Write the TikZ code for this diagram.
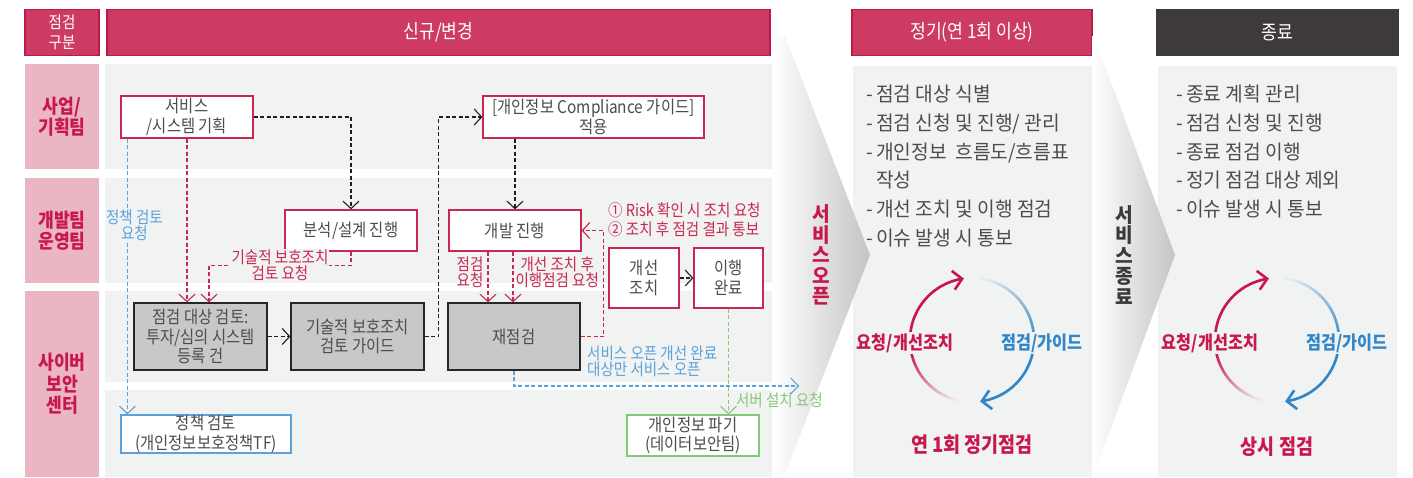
\documentclass[tikz,border=0pt]{standalone}
\usepackage{fontspec}
\setmainfont{Noto Sans CJK KR}[FakeStretch=0.88]
\newfontfamily\bulfont{Noto Sans CJK KR}[FakeStretch=0.96]
\usetikzlibrary{arrows.meta,calc}
\definecolor{hdrred}{HTML}{CD3B63}
\definecolor{hdrline}{HTML}{B71A4B}
\definecolor{lanepink}{HTML}{EBB6C4}
\definecolor{lanetxt}{HTML}{C8174D}
\definecolor{lanegray}{HTML}{F1F2F2}
\definecolor{boxred}{HTML}{C8284F}
\definecolor{txtgray}{HTML}{4D4D4D}
\definecolor{boxgray}{HTML}{C8C8C8}
\definecolor{lblue}{HTML}{5BA2DB}
\definecolor{lgreen}{HTML}{86C77A}
\definecolor{darkhdr}{HTML}{3E3A39}
\definecolor{cblue}{HTML}{2F86C8}
\definecolor{cred}{HTML}{C8174D}
\definecolor{chevgray}{HTML}{C4C4C4}
\definecolor{darktxt}{HTML}{3A3A3A}
\tikzset{
  hdr/.style={draw=hdrline, line width=1.2pt, fill=hdrred, text=white, font=\fontsize{19.5}{22}\selectfont, align=center, inner sep=0pt, minimum height=46pt},
  hdrd/.style={hdr, draw=darkhdr, fill=darkhdr},
  lanelab/.style={fill=lanepink, text=lanetxt, font=\bfseries\fontsize{19.5}{21.5}\selectfont, align=center, inner sep=0pt, minimum width=74pt},
  wbox/.style={draw=boxred, line width=1.2pt, fill=white, text=txtgray, font=\fontsize{17.5}{19.5}\selectfont, align=center, inner sep=0pt},
  gbox/.style={wbox, draw=black!85, fill=boxgray},
  bbox/.style={wbox, draw=lblue},
  grbox/.style={wbox, draw=lgreen},
  dl/.style={line width=1.1pt, dash pattern=on 4pt off 2.5pt, -{Straight Barb[length=7.5pt,width=16pt]}},
  kblk/.style={dl, draw=black!88},
  kred/.style={dl, draw=boxred},
  kblue/.style={dl, draw=lblue},
  kgreen/.style={dl, draw=lgreen},
  smlab/.style={font=\fontsize{16.5}{16}\selectfont, inner sep=1pt, align=center},
  bul/.style={font=\bulfont\fontsize{20}{28.7}\selectfont, text=txtgray, align=left, anchor=north west, inner sep=0pt},
  cyclab/.style={font=\bfseries\fontsize{18.5}{20}\selectfont, fill=lanegray, inner sep=1pt},
  cyctitle/.style={font=\bfseries\fontsize{21}{22}\selectfont, text=cred, inner sep=0pt},
  vtxt/.style={font=\bulfont\bfseries\fontsize{20}{20.5}\selectfont, align=center, inner sep=0pt},
  arcline/.style={line width=2.6pt},
}
\begin{document}
\begin{tikzpicture}[x=1pt,y=-1pt]
\useasboundingbox (0,0) rectangle (1413,477);
% headers
\node[hdr, minimum width=74pt, font=\fontsize{16.5}{20}\selectfont] (h0) at (62,32.5) {점검\\구분};
\node[hdr, minimum width=663pt] (h1) at (438.5,32.5) {신규/변경};
\node[hdr, minimum width=240pt] (h2) at (972,32.5) {정기(연 1회 이상)};
\node[hdrd, minimum width=241pt] (h3) at (1277.5,32.5) {종료};
% lanes
\node[lanelab, minimum height=105pt] (l1) at (62,116.5) {사업/\\기획팀};
\node[lanelab, minimum height=105pt] (l2) at (62,230.5) {개발팀\\운영팀};
\node[lanelab, minimum height=186pt] (l3) at (62,384) {사이버\\보안\\센터};
\fill[lanegray] (105,64) rectangle (772,169);
\fill[lanegray] (105,178) rectangle (772,283);
\fill[lanegray] (105,291) rectangle (772,382);
\fill[lanegray] (105,390) rectangle (772,477);
% panels
\fill[lanegray] (853,66) rectangle (1092,477);
\fill[lanegray] (1158,66) rectangle (1397,477);
% chevrons
\shade[left color=white, right color=chevgray] (772,36) -- (785,36) -- (870,255) -- (785,474) -- (772,474) -- cycle;
\shade[left color=white, right color=chevgray] (1092,36) -- (1094,36) -- (1175,255) -- (1094,474) -- (1092,474) -- cycle;
\node[vtxt, text=cred] (vo) at (821,255) {서\\비\\스\\오\\픈};
\node[vtxt, text=darktxt] (vc) at (1124,255) {서\\비\\스\\종\\료};
% boxes
\node[wbox, minimum width=132pt, minimum height=42pt] (svc) at (187,117) {서비스\\/시스템 기획};
\node[wbox, minimum width=132pt, minimum height=41pt] (anal) at (351,230.5) {분석/설계 진행};
\node[gbox, minimum width=133pt, minimum height=67pt] (chk) at (200.5,336.5) {점검 대상 검토:\\투자/심의 시스템\\등록 건};
\node[gbox, minimum width=133pt, minimum height=67pt] (tech) at (357.5,336.5) {기술적 보호조치\\검토 가이드};
\node[bbox, minimum width=170pt, minimum height=38pt] (pol) at (206,434) {정책 검토\\(개인정보보호정책TF)};
\node[wbox, minimum width=221pt, minimum height=42pt] (comp) at (593.5,117) {[개인정보 Compliance 가이드]\\적용};
\node[wbox, minimum width=132pt, minimum height=41pt] (dev) at (515,230.5) {개발 진행};
\node[wbox, minimum width=70pt, minimum height=60pt] (imp) at (644,278) {개선\\조치};
\node[wbox, minimum width=69pt, minimum height=60pt] (done) at (728.5,278) {이행\\완료};
\node[gbox, minimum width=132pt, minimum height=67pt] (rechk) at (514,336.5) {재점검};
\node[grbox, minimum width=132pt, minimum height=41pt] (dest) at (693,435.5) {개인정보 파기\\(데이터보안팀)};
% connectors
\draw[kblk] (svc.east) -| (anal.north);
\draw[kred] (svc.south) -- (svc.south |- chk.north);
\coordinate (c2) at ([xshift=8.5pt]chk.north);
\draw[kred] (anal.south) |- node[pos=0.75, smlab, text=boxred, fill=lanegray, font=\fontsize{16.5}{14.5}\selectfont]{기술적 보호조치\\검토 요청} ($(c2)+(0,-37)$) -- (c2);
\draw[kblue] ([xshift=7pt]svc.south west) -- ([xshift=7pt]svc.south west |- pol.north) node[pos=0.314, smlab, text=lblue, fill=lanegray, xshift=7pt]{정책 검토\\요청};
\draw[kblk] (chk.east) -- (tech.west);
\draw[kblk] (tech.east) -- ++(14,0) |- (comp.west);
\draw[kblk] (dev.north |- comp.south) -- (dev.north);
\draw[kred] ([xshift=-27pt]dev.south) -- ([xshift=-27pt]dev.south |- rechk.north) node[pos=0.4, smlab, text=boxred, anchor=east, xshift=-3pt]{점검\\요청};
\draw[kred] ([xshift=-2pt]dev.south) -- ([xshift=-2pt]dev.south |- rechk.north) node[pos=0.4, smlab, text=boxred, anchor=west, xshift=1pt]{개선 조치 후\\이행점검 요청};
\draw[kred] (rechk.east) -- ++(23,0) |- (dev.east);
\node[smlab, text=boxred, anchor=west, align=left, font=\fontsize{16.5}{19}\selectfont] (risk) at (607,219.5) {① Risk 확인 시 조치 요청\\② 조치 후 점검 결과 통보};
\draw[kblk] (imp.east) -- (done.west);
\draw[kgreen] (done.south) -- (done.south |- dest.north) node[pos=0.87, smlab, text=lgreen, anchor=west, xshift=6pt]{서버 설치 요청};
\coordinate (opn) at (799,386);
\draw[kblue] (rechk.south) |- (opn);
\node[smlab, text=lblue, anchor=west, align=left] (olab) at (586,361) {서비스 오픈 개선 완료\\대상만 서비스 오픈};
% lists
\node[bul] (mlist) at (866,85) {-\,점검 대상 식별\\-\,점검 신청 및 진행/ 관리\\-\,개인정보\ \ 흐름도/흐름표\\\phantom{-\,}작성\\-\,개선 조치 및 이행 점검\\-\,이슈 발생 시 통보};
\node[bul] (rlist) at (1176,85) {-\,종료 계획 관리\\-\,점검 신청 및 진행\\-\,종료 점검 이행\\-\,정기 점검 대상 제외\\-\,이슈 발생 시 통보};
% cycles
\foreach \cx/\cy in {972/340, 1277/340}{
  \foreach \a [evaluate=\a as \p using {min(100,max(6,(256-\a)*1.6))}] in {256,253,...,103}{
    \draw[arcline, color=cred!\p!lanegray] ({\cx+62*cos(\a)},{\cy-62*sin(\a)}) -- ({\cx+62*cos(\a-3.3)},{\cy-62*sin(\a-3.3)});
  }
  \draw[arcline, cred, -{Straight Barb[length=9pt,width=19pt]}] ({\cx+62*cos(101)},{\cy-62*sin(101)}) -- ({\cx+62*cos(97.5)},{\cy-62*sin(97.5)});
  \foreach \a [evaluate=\a as \p using {min(100,max(6,(82-\a)*1.2))}] in {82,79,...,-77}{
    \draw[arcline, color=cblue!\p!lanegray] ({\cx+62*cos(\a)},{\cy-62*sin(\a)}) -- ({\cx+62*cos(\a-3.3)},{\cy-62*sin(\a-3.3)});
  }
  \draw[arcline, cblue, -{Straight Barb[length=9pt,width=19pt]}] ({\cx+62*cos(-79)},{\cy-62*sin(-79)}) -- ({\cx+62*cos(-82.5)},{\cy-62*sin(-82.5)});
}
\node[cyclab, text=cred] (cl1) at (905,343) {요청/개선조치};
\node[cyclab, text=cblue] (cl2) at (1042,343) {점검/가이드};
\node[cyctitle] (ct1) at (972,445) {연 1회 정기점검};
\node[cyclab, text=cred] (cl3) at (1210,343) {요청/개선조치};
\node[cyclab, text=cblue] (cl4) at (1347,343) {점검/가이드};
\node[cyctitle] (ct2) at (1277,447) {상시 점검};
\end{tikzpicture}
\end{document}
